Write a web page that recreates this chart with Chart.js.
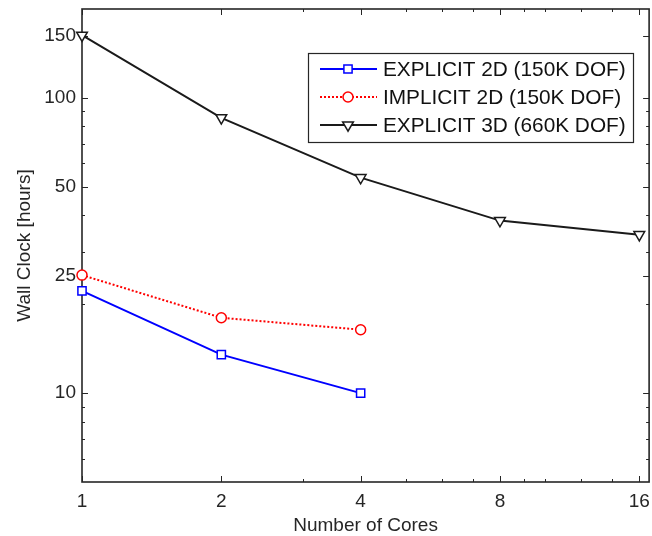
<!DOCTYPE html>
<html>
<head>
<meta charset="utf-8">
<script src="https://cdn.jsdelivr.net/npm/chart.js@4/dist/chart.umd.min.js"></script>
<style>
  html, body { margin: 0; padding: 0; background: #fff; overflow: hidden; }
  /* un peu plus large que la fenetre : la marge droite du label "16" tombe hors cadre */
  #wrap { width: 658px; height: 536px; position: relative; }
</style>
</head>
<body>
<div id="wrap"><canvas id="wallClockChart"></canvas></div>
<script>
// Donnees
const cores = [1, 2, 4, 8, 16];
const explicit2D = [22.2, 13.5, 10.0];
const implicit2D = [25.1, 18.0, 16.4];
const explicit3D = [163, 85.6, 53.7, 38.4, 34.4];

const seriesLabels = ['EXPLICIT 2D (150K DOF)', 'IMPLICIT 2D (150K DOF)', 'EXPLICIT 3D (660K DOF)'];

const xTicks = [1, 2, 4, 8, 16];
const xTickLabels = ['1', '2', '4', '8', '16'];
const xMinorTicks = [3, 5, 6, 7, 9, 10, 12, 14];
const yTicks = [10, 25, 50, 100, 162];
const yTickLabels = ['10', '25', '50', '100', '150'];
const yMinorTicks = [6, 7, 8, 9, 20, 30, 40, 60, 70, 80, 90];

const axisColor = '#262626';
const fontFamily = '"Liberation Sans", Arial, Helvetica, sans-serif';

const toPoints = (vals) => vals.map((v, i) => ({ x: cores[i], y: v }));

/**
 * Cadre des axes avec graduations vers l'interieur (style MATLAB)
 */
const axesBox = {
    id: 'axesBox',
    beforeDatasetsDraw(chart) {
        const { ctx, chartArea: a, scales: { x, y } } = chart;
        ctx.save();
        ctx.strokeStyle = axisColor;
        ctx.lineWidth = 1;
        const seg = (x1, y1, x2, y2) => {
            ctx.beginPath();
            ctx.moveTo(x1, y1);
            ctx.lineTo(x2, y2);
            ctx.stroke();
        };
        const xt = (v, len) => {
            const px = Math.round(x.getPixelForValue(v)) + 0.5;
            seg(px, a.bottom, px, a.bottom - len);
            seg(px, a.top, px, a.top + len);
        };
        const yt = (v, len) => {
            const py = Math.round(y.getPixelForValue(v)) + 0.5;
            seg(a.left, py, a.left + len, py);
            seg(a.right, py, a.right - len, py);
        };
        xTicks.forEach(v => xt(v, 6));
        xMinorTicks.forEach(v => xt(v, 3));
        yTicks.forEach(v => yt(v, 6));
        yMinorTicks.forEach(v => yt(v, 3));
        ctx.lineWidth = 1.6;
        ctx.strokeRect(a.left, a.top, a.right - a.left, a.bottom - a.top);
        ctx.restore();
    }
};

/**
 * Legende encadree avec trait + marqueur
 */
const boxLegend = {
    id: 'boxLegend',
    afterDatasetsDraw(chart) {
        const { ctx } = chart;
        const box = { left: 308, top: 53, right: 633, bottom: 142 };
        const rowY = [69, 97, 125];
        ctx.save();
        ctx.fillStyle = '#fff';
        ctx.fillRect(box.left, box.top, box.right - box.left, box.bottom - box.top);
        ctx.strokeStyle = axisColor;
        ctx.lineWidth = 1.2;
        ctx.strokeRect(box.left + 0.5, box.top + 0.5, box.right - box.left, box.bottom - box.top);
        chart.data.datasets.forEach((ds, i) => {
            const yy = rowY[i];
            ctx.strokeStyle = ds.borderColor;
            ctx.lineWidth = ds.borderWidth;
            ctx.setLineDash(ds.borderDash || []);
            ctx.beginPath();
            ctx.moveTo(320, yy);
            ctx.lineTo(377, yy);
            ctx.stroke();
            ctx.setLineDash([]);
            ctx.fillStyle = '#fff';
            ctx.lineWidth = ds.pointBorderWidth;
            Chart.helpers.drawPoint(ctx, {
                pointStyle: ds.pointStyle,
                rotation: ds.pointRotation || 0,
                radius: ds.pointRadius,
                borderWidth: ds.pointBorderWidth
            }, 348, yy);
            ctx.fillStyle = '#111';
            ctx.font = '20.8px ' + fontFamily;
            ctx.textBaseline = 'middle';
            ctx.textAlign = 'left';
            ctx.fillText(ds.label, 383, yy + 1);
        });
        ctx.restore();
    }
};

function initWallClockChart() {
    const canvas = document.getElementById('wallClockChart');
    if (!canvas) return;
    new Chart(canvas, {
        type: 'line',
        data: {
            datasets: [{
                label: seriesLabels[0],
                data: toPoints(explicit2D),
                borderColor: '#0000ff',
                borderWidth: 2,
                pointStyle: 'rect',
                pointRadius: 5.8,
                pointBorderWidth: 1.5,
                pointBackgroundColor: '#fff',
                pointBorderColor: '#0000ff',
                clip: false,
            }, {
                label: seriesLabels[1],
                data: toPoints(implicit2D),
                borderColor: '#ff0000',
                borderWidth: 2,
                borderDash: [2, 2],
                pointStyle: 'circle',
                pointRadius: 5,
                pointBorderWidth: 1.5,
                pointBackgroundColor: '#fff',
                pointBorderColor: '#ff0000',
                clip: false,
            }, {
                label: seriesLabels[2],
                data: toPoints(explicit3D),
                borderColor: '#1a1a1a',
                borderWidth: 2,
                pointStyle: 'triangle',
                pointRotation: 180,
                pointRadius: 6.2,
                pointBorderWidth: 1.5,
                pointBackgroundColor: '#fff',
                pointBorderColor: '#1a1a1a',
                clip: false,
            }],
        },
        options: {
            responsive: true,
            maintainAspectRatio: false,
            animation: false,
            layout: { padding: { left: 0, right: 2, top: 9, bottom: 0 } },
            plugins: {
                legend: { display: false },
                tooltip: { enabled: false },
            },
            scales: {
                x: {
                    type: 'logarithmic',
                    min: 1,
                    max: 16.8,
                    grid: { display: false, drawTicks: false },
                    border: { display: false },
                    afterBuildTicks: (s) => { s.ticks = xTicks.map(v => ({ value: v })); },
                    afterFit: (s) => { s.height = 54; },
                    ticks: {
                        autoSkip: false,
                        maxRotation: 0,
                        padding: 8,
                        color: axisColor,
                        font: { family: fontFamily, size: 19 },
                        callback: (v, i) => xTickLabels[i],
                    },
                    title: {
                        display: true,
                        text: 'Number of Cores',
                        color: axisColor,
                        padding: { top: 0, bottom: 1 },
                        font: { family: fontFamily, size: 19, lineHeight: 1 },
                    },
                },
                y: {
                    type: 'logarithmic',
                    min: 5,
                    max: 200,
                    grid: { display: false, drawTicks: false },
                    border: { display: false },
                    afterBuildTicks: (s) => { s.ticks = yTicks.map(v => ({ value: v })); },
                    afterFit: (s) => {
                        s.width = 82;
                        s.paddingTop = 0;
                        s.paddingBottom = 0;
                    },
                    ticks: {
                        autoSkip: false,
                        padding: 6,
                        color: axisColor,
                        font: { family: fontFamily, size: 19 },
                        callback: (v, i) => yTickLabels[i],
                    },
                    title: {
                        display: true,
                        text: 'Wall Clock [hours]',
                        color: axisColor,
                        padding: { top: 15, bottom: 0 },
                        font: { family: fontFamily, size: 19, lineHeight: 1 },
                    },
                },
            },
        },
        plugins: [axesBox, boxLegend],
    });
}

document.addEventListener('DOMContentLoaded', () => {
    initWallClockChart();
});
</script>
</body>
</html>
